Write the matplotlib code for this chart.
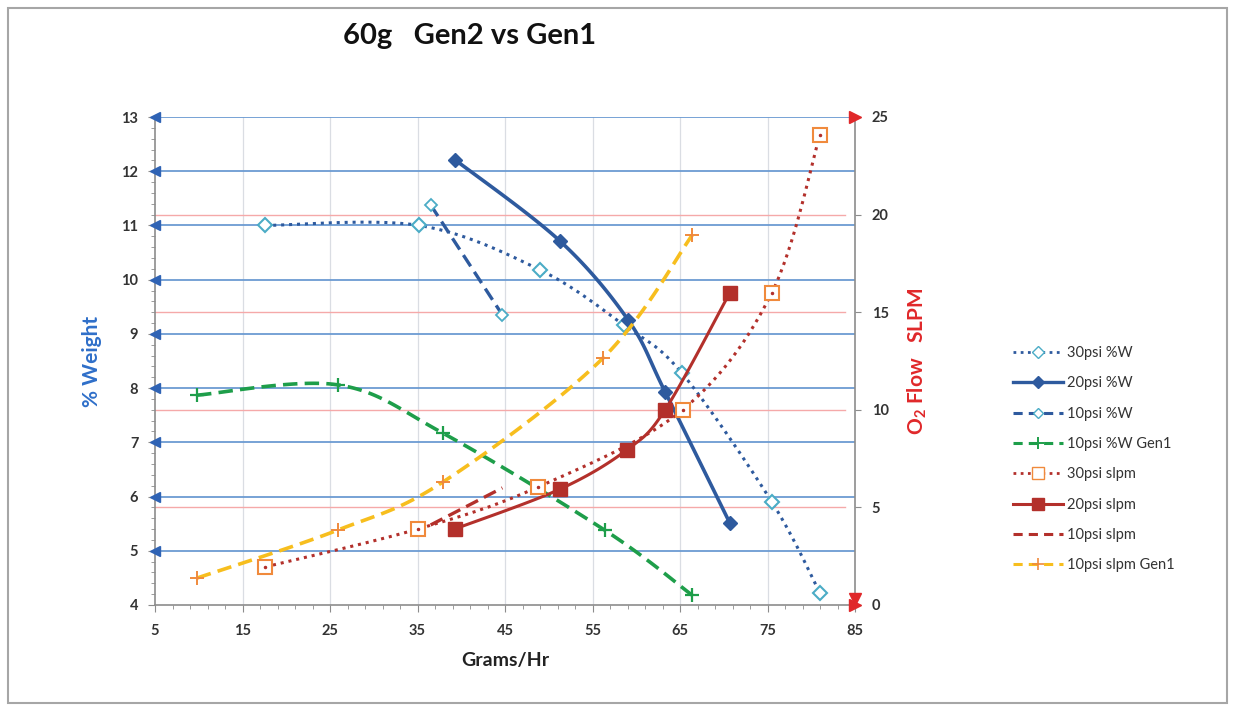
import numpy as np
import matplotlib
matplotlib.use("Agg")
import matplotlib.pyplot as plt
from matplotlib.transforms import blended_transform_factory
from matplotlib.patches import Rectangle
from matplotlib.lines import Line2D

plt.rcParams['font.family'] = ['Lato', 'DejaVu Sans']
plt.rcParams['mathtext.fontset'] = 'custom'
plt.rcParams['mathtext.rm'] = 'Lato:bold'
plt.rcParams['mathtext.it'] = 'Lato:bold'
plt.rcParams['mathtext.bf'] = 'Lato:bold'

# ---------------- data ----------------
w30_x = [17.6, 35.2, 49.0, 58.6, 65.2, 75.5, 81.0]
w30_y = [11.0, 11.0, 10.18, 9.16, 8.28, 5.9, 4.22]

w20_x = [39.3, 51.3, 59.1, 63.3, 70.7]
w20_y = [12.21, 10.71, 9.25, 7.93, 5.51]

w10_x = [36.5, 44.7]
w10_y = [11.38, 9.35]

wg1_x = [9.8, 25.9, 37.9, 56.4, 66.4]
wg1_y = [7.87, 8.06, 7.17, 5.38, 4.18]

s30_x = [17.6, 35.1, 48.8, 65.3, 75.5, 81.0]
s30_y = [1.95, 3.9, 6.05, 10.0, 16.0, 24.1]

s20_x = [39.3, 51.3, 58.9, 63.3, 70.7]
s20_y = [3.9, 5.94, 7.94, 10.0, 16.0]

s10_x = [36.5, 44.7]
s10_y = [4.1, 6.0]

sg1_x = [9.8, 25.9, 37.9, 56.2, 66.4]
sg1_y = [1.38, 3.84, 6.3, 12.65, 18.95]

left_ticks = [4, 5, 6, 7, 8, 9, 10, 11, 12, 13]
right_ticks = [0, 5, 10, 15, 20, 25]
x_ticks = [5, 15, 25, 35, 45, 55, 65, 75, 85]
red_grid = [5, 10, 15, 20]

# ---------------- helpers ----------------
def smooth(x, y, n=30):
    x = np.asarray(x, float); y = np.asarray(y, float)
    if len(x) < 3:
        return x, y
    P = np.column_stack([x, y])
    P = np.vstack([P[:1], P, P[-1:]])
    out = []
    t = np.linspace(0, 1, n)[:, None]
    for i in range(1, len(P) - 2):
        p0, p1, p2, p3 = P[i - 1], P[i], P[i + 1], P[i + 2]
        seg = 0.5 * ((2 * p1) + (-p0 + p2) * t + (2 * p0 - 5 * p1 + 4 * p2 - p3) * t ** 2
                     + (-p0 + 3 * p1 - 3 * p2 + p3) * t ** 3)
        out.append(seg if i == 1 else seg[1:])
    out = np.vstack(out)
    return out[:, 0], out[:, 1]

BLUE = '#2E5A9E'
LBLUE = '#4BACC6'
GREEN = '#1E9E4A'
RED = '#B3302B'
ORANGE = '#F08A3C'
YELLOW = '#F7BE1E'
GRIDBLUE = '#6C9BD2'
TXT = '#333333'

fig = plt.figure(figsize=(12.35, 7.11), dpi=100)
fig.patches.append(Rectangle((8 / 1235, 8 / 711), 1219 / 1235, 695 / 711, transform=fig.transFigure,
                             fill=False, edgecolor='#A6A6A6', linewidth=1.5))

ax = fig.add_axes([155 / 1235, 1 - 605 / 711, 700 / 1235, 488 / 711])
ax2 = ax.twinx()

ax.set_xlim(5, 85)
ax.set_ylim(4, 13)
ax2.set_ylim(0, 25)

# gridlines
for v in x_ticks[1:-1]:
    ax.axvline(v, color='#DADDE3', lw=0.9, zorder=0)
for v in left_ticks[1:]:
    ax.axhline(v, color=GRIDBLUE, lw=1.3, zorder=0.5)
bt = blended_transform_factory(ax.transAxes, ax2.transData)
for v in red_grid:
    ax.plot([0, 0.986], [v, v], transform=bt, color='#F5A9A9', lw=1.0, zorder=0.4)

# left arrows
ax.plot([5] * len(left_ticks[1:]), left_ticks[1:], linestyle='none', marker='<', ms=7,
        color='#2F63B5', clip_on=False, zorder=5)

# %W series
sx, sy = smooth(w30_x, w30_y)
ax.plot(sx, sy, linestyle=(0, (1, 1.6)), color=BLUE, lw=2.2, zorder=3)
ax.plot(w30_x, w30_y, linestyle='none', marker='D', ms=7, mfc='white', mec=LBLUE, mew=1.5, zorder=4)

sx, sy = smooth(w20_x, w20_y)
ax.plot(sx, sy, '-', color=BLUE, lw=2.6, zorder=3)
ax.plot(w20_x, w20_y, linestyle='none', marker='D', ms=7, mfc=BLUE, mec=BLUE, zorder=4)

ax.plot(w10_x, w10_y, linestyle=(0, (4, 2)), color=BLUE, lw=2.4, zorder=3)
ax.plot(w10_x, w10_y, linestyle='none', marker='D', ms=6, mfc='white', mec=LBLUE, mew=1.3, zorder=4)

sx, sy = smooth(wg1_x, wg1_y)
ax.plot(sx, sy, linestyle=(0, (4, 2)), color=GREEN, lw=2.6, zorder=3)
ax.plot(wg1_x, wg1_y, linestyle='none', marker='+', ms=10, mew=1.6, color=GREEN, zorder=4)

# slpm series
sx, sy = smooth(s30_x, s30_y)
ax2.plot(sx, sy, linestyle=(0, (1, 1.6)), color=RED, lw=2.2, zorder=3)
ax2.plot(s30_x, s30_y, linestyle='none', marker='s', ms=10, mfc='white', mec=ORANGE, mew=1.5, zorder=4)
ax2.plot(s30_x, s30_y, linestyle='none', marker='.', ms=3, color=RED, zorder=5)

sx, sy = smooth(s20_x, s20_y)
ax2.plot(sx, sy, '-', color=RED, lw=2.2, zorder=3)
ax2.plot(s20_x, s20_y, linestyle='none', marker='s', ms=10, mfc=RED, mec=RED, zorder=4)

ax2.plot(s10_x, s10_y, linestyle=(0, (4, 2)), color=RED, lw=2.4, zorder=3)

sx, sy = smooth(sg1_x, sg1_y)
ax2.plot(sx, sy, linestyle=(0, (4, 2)), color=YELLOW, lw=2.6, zorder=3)
ax2.plot(sg1_x, sg1_y, linestyle='none', marker='+', ms=10, mew=1.4, color=ORANGE, zorder=4)

# right axis arrows
ax2.plot([85], [25], linestyle='none', marker='>', ms=8, color='#E0282A', clip_on=False, zorder=6)
ax2.plot([85], [0], linestyle='none', marker='>', ms=8, color='#E0282A', clip_on=False, zorder=6)
ax2.plot([85], [0.3], linestyle='none', marker='v', ms=8, color='#E0282A', clip_on=False, zorder=6)

# axes styling
for a in (ax, ax2):
    a.spines['top'].set_visible(False)
    for s in ('left', 'right', 'bottom'):
        a.spines[s].set_color('#8C8C8C')
        a.spines[s].set_linewidth(1.2)
ax.spines['right'].set_visible(False)
ax2.spines['left'].set_visible(False)
ax2.spines['bottom'].set_visible(False)

ax.set_xticks(x_ticks)
ax.set_xticks(np.arange(5, 86, 2), minor=True)
ax.set_yticks(left_ticks)
ax.set_yticks(np.arange(4, 13.01, 0.2), minor=True)
ax2.set_yticks(right_ticks)
ax.tick_params(axis='x', which='major', labelsize=10.5, color='#8C8C8C', length=5, pad=9)
ax.tick_params(axis='y', which='major', labelsize=10.5, color='#8C8C8C', length=5, pad=7)
ax.tick_params(axis='both', which='minor', color='#8C8C8C', length=3)
ax2.tick_params(axis='y', which='major', labelsize=10.5, color='#8C8C8C', length=4, pad=8)
for lab in ax.get_xticklabels() + ax.get_yticklabels() + ax2.get_yticklabels():
    lab.set_color(TXT)
    lab.set_fontweight('bold')

ax.set_xlabel('Grams/Hr', fontsize=14, fontweight='bold', color='#222222', labelpad=10)
ax.set_ylabel('% Weight', fontsize=15, fontweight='bold', color='#2F6FC9', labelpad=14)
ax2.set_ylabel(r'O$_{2}$ Flow   SLPM', fontsize=15, fontweight='bold', color='#E0282A', labelpad=12)

fig.text(470 / 1235, 1 - 36 / 711, '60g   Gen2 vs Gen1', fontsize=21, fontweight='bold',
         ha='center', va='center', color='#111111')

# legend
handles = [
    Line2D([], [], linestyle=(0, (1, 1.6)), color=BLUE, lw=2, marker='D', ms=6, mfc='white', mec=LBLUE),
    Line2D([], [], linestyle='-', color=BLUE, lw=2.4, marker='D', ms=6, mfc=BLUE, mec=BLUE),
    Line2D([], [], linestyle=(0, (3, 2)), color=BLUE, lw=2.2, marker='D', ms=5, mfc='white', mec=LBLUE),
    Line2D([], [], linestyle=(0, (3, 2)), color=GREEN, lw=2.2, marker='+', ms=8, mew=1.4),
    Line2D([], [], linestyle=(0, (1, 1.6)), color=RED, lw=2, marker='s', ms=8, mfc='white', mec=ORANGE),
    Line2D([], [], linestyle='-', color=RED, lw=2.2, marker='s', ms=8, mfc=RED, mec=RED),
    Line2D([], [], linestyle=(0, (3, 2)), color=RED, lw=2.2),
    Line2D([], [], linestyle=(0, (3, 2)), color=YELLOW, lw=2.2, marker='+', ms=8, mew=1.2, mec=ORANGE),
]
labels = ['30psi %W', '20psi %W', '10psi %W', '10psi %W Gen1',
          '30psi slpm', '20psi slpm', '10psi slpm', '10psi slpm Gen1']
leg = fig.legend(handles, labels, loc='upper left', bbox_to_anchor=(1000 / 1235, 1 - 333 / 711),
                 frameon=False, fontsize=10.5, handlelength=3.4, labelspacing=1.12, handletextpad=0.3)
for t in leg.get_texts():
    t.set_color(TXT)

fig.savefig('out.png', dpi=100)
